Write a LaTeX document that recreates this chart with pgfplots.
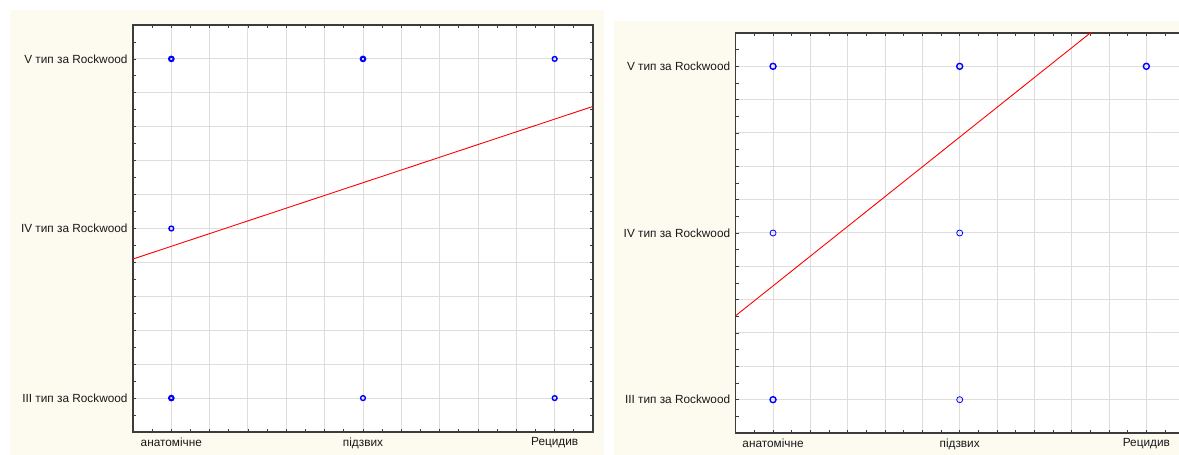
\documentclass[border=0pt]{standalone}
\usepackage{pgfplots}
\pgfplotsset{compat=1.18}
\usepackage{fontspec}
\setmainfont{Liberation Sans}
\definecolor{cream}{RGB}{253,250,240}
\definecolor{gridgray}{RGB}{222,222,222}
\definecolor{axisgray}{RGB}{60,60,60}
\pgfplotsset{
  statstyle/.style={
    scale only axis,
    xmin=0.8, xmax=3.2, ymin=2.8, ymax=5.2,
    xtick={0.8,1.0,1.2,1.4,1.6,1.8,2.0,2.2,2.4,2.6,2.8,3.0,3.2},
    ytick={2.8,3.0,3.2,3.4,3.6,3.8,4.0,4.2,4.4,4.6,4.8,5.0,5.2},
    xticklabels={,анатомічне,,,,,підзвих,,,,,Рецидив,},
    yticklabels={,III тип за Rockwood,,,,,IV тип за Rockwood,,,,,V тип за Rockwood,},
    minor x tick num=1, minor y tick num=1,
    tick align=inside,
    major tick length=3pt, minor tick length=3pt,
    grid=major,
    major grid style={gridgray, line width=1pt},
    axis line style={line width=1.3pt, axisgray},
    tick style={axisgray, line width=0.8pt},
    ticklabel style={font=\fontsize{11.8}{13}\selectfont, text=black!90},
    yticklabel style={xshift=-2pt},
    xticklabel style={yshift=-2pt},
    axis background/.style={fill=white},
  }
}
\begin{document}
\begin{tikzpicture}
\clip (0pt,0pt) rectangle (1179pt,455pt);
\fill[white] (0pt,0pt) rectangle (1179pt,455pt);
\fill[cream] (10pt,0pt) rectangle (604pt,445pt);
\fill[cream] (614pt,0pt) rectangle (1179pt,434pt);
\begin{axis}[statstyle, at={(133pt,23pt)}, anchor=south west, width=460pt, height=407pt]
\addplot[only marks, mark=o, blue, mark size=2.3pt, line width=2pt] coordinates {(1,5) (2,5) (1,3)};
\addplot[only marks, mark=o, blue, mark size=2.4pt, line width=1.4pt] coordinates {(3,5) (1,4) (2,3) (3,3)};
\addplot[red, line width=0.9pt] coordinates {(0.8,3.82) (3.2,4.72)};
\end{axis}
\begin{axis}[statstyle, at={(735.7pt,22pt)}, anchor=south west, width=448pt, height=400pt]
\addplot[only marks, mark=o, blue, mark size=3pt, line width=1.4pt] coordinates {(1,5) (2,5) (3,5) (1,3)};
\addplot[only marks, mark=o, blue, mark size=3pt, line width=0.8pt] coordinates {(1,4) (2,4) (2,3)};
\addplot[red, line width=0.9pt] coordinates {(0.8,3.504) (3.2,5.647)};
\end{axis}
\end{tikzpicture}
\end{document}
